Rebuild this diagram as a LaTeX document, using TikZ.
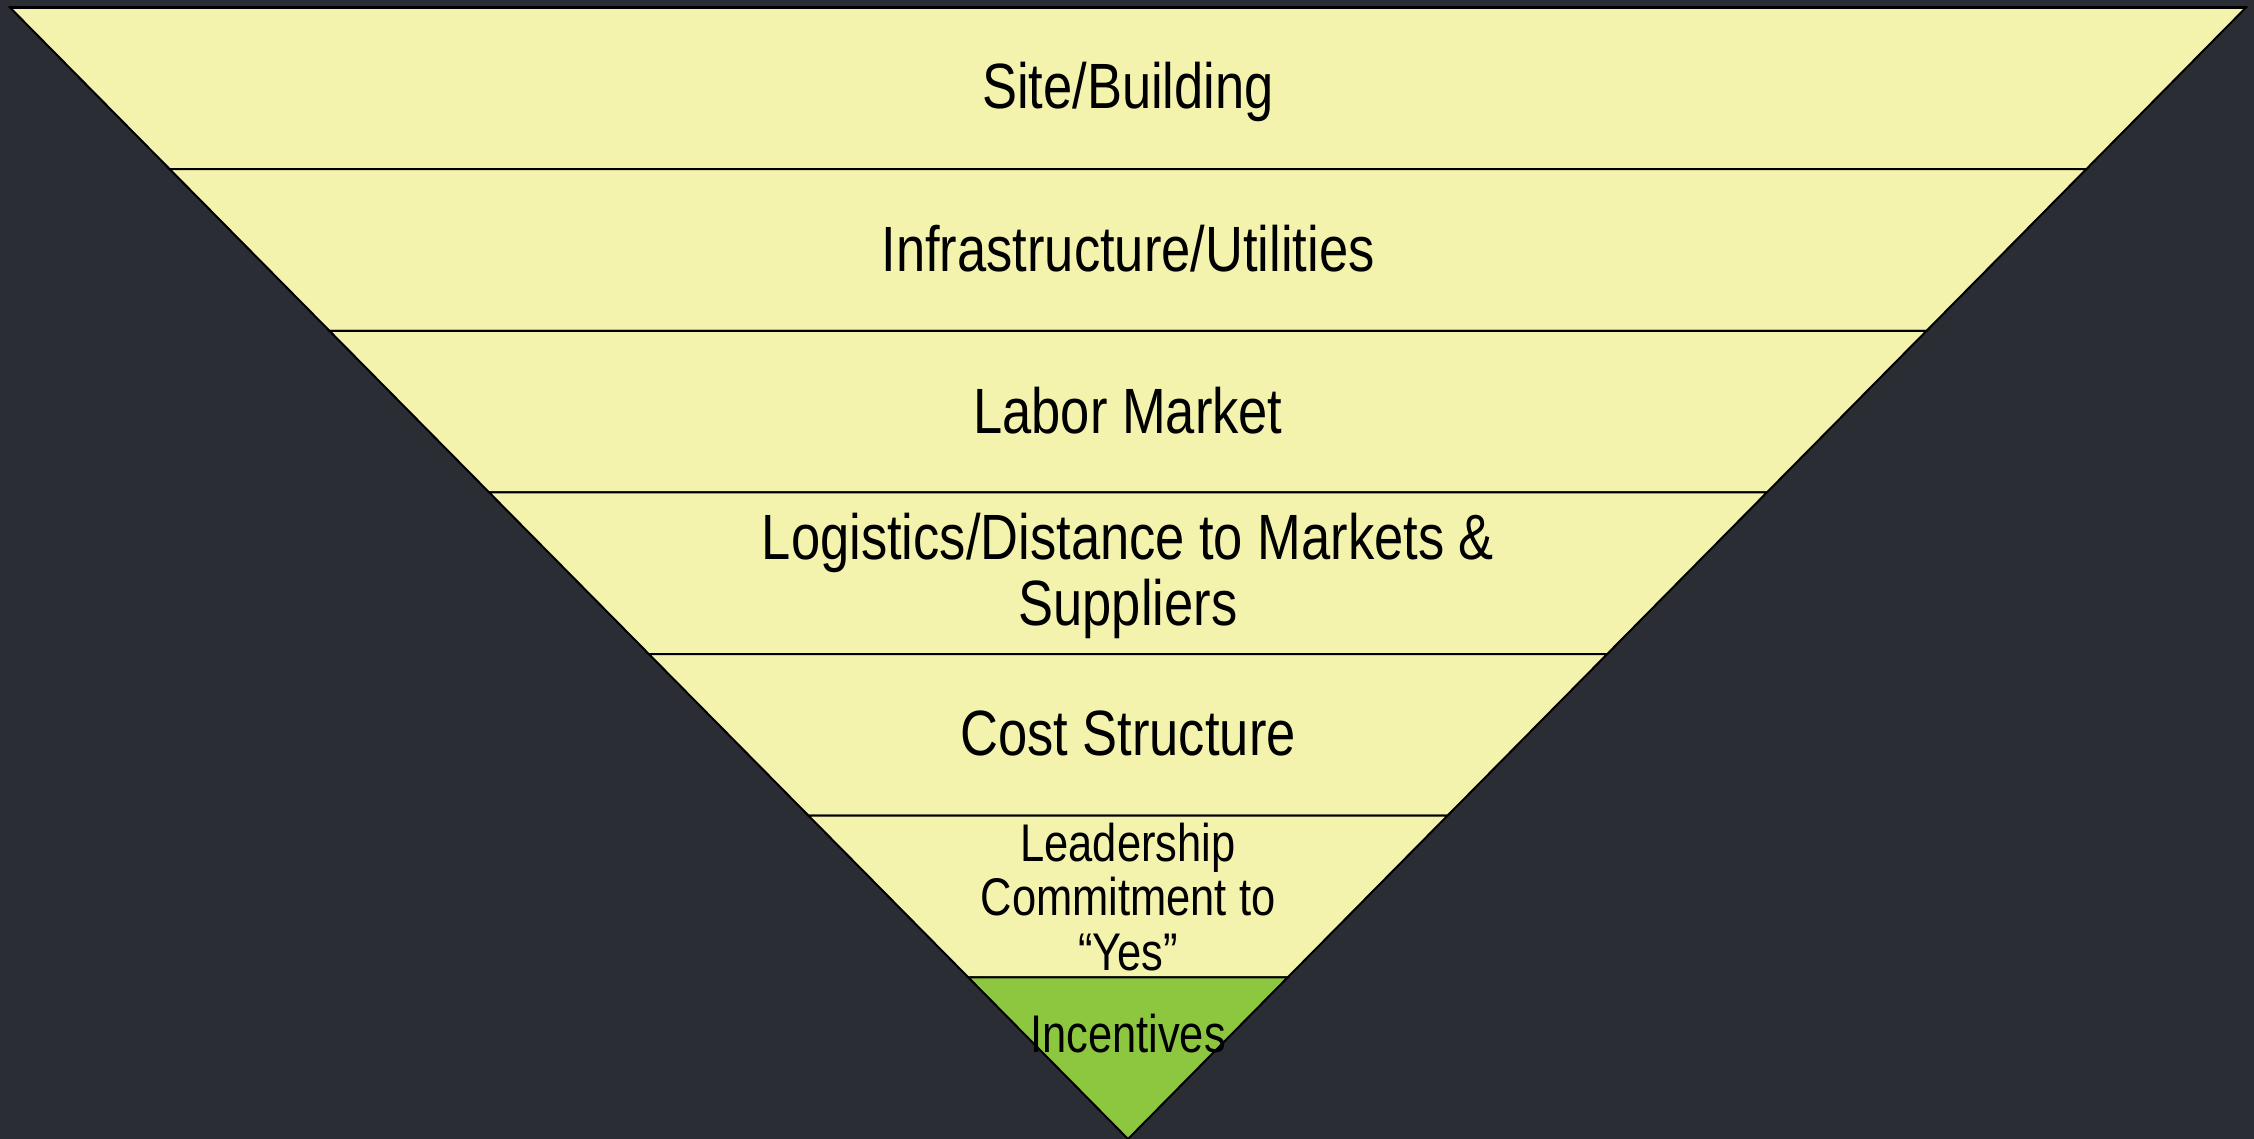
\documentclass[tikz,border=0pt]{standalone}
\usepackage{fontspec}
\usetikzlibrary{calc}
\newfontfamily\bandfont[FakeStretch=0.82]{Liberation Sans}
\definecolor{bgdark}{HTML}{2A2D34}
\definecolor{bandyellow}{HTML}{F3F3AE}
\definecolor{bandgreen}{HTML}{8DC63F}
\begin{document}
\begin{tikzpicture}[x=0.5pt, y=-0.5pt,
    band/.style = {draw=black, line width=1pt, fill=bandyellow},
    bandtext/.style = {font=\bandfont\fontsize{32}{33}\selectfont, align=center, inner sep=0pt},
    smalltext/.style = {font=\bandfont\fontsize{26.5}{27.3}\selectfont, align=center, inner sep=0pt}]
    \fill[bgdark] (0,0) rectangle (2254,1139);
    \useasboundingbox (0,0) rectangle (2254,1139);
    % funnel corners
    \coordinate (tl) at (10,7.5);
    \coordinate (tr) at (2246,7.5);
    \coordinate (tip) at (1128,1139);
    % six yellow bands, green tip
    \foreach \i [evaluate=\i as \j using int(\i+1)] in {0,...,5}
        \filldraw[band] ($(tl)!\i/7!(tip)$) -- ($(tr)!\i/7!(tip)$) -- ($(tr)!\j/7!(tip)$) -- ($(tl)!\j/7!(tip)$) -- cycle;
    \filldraw[band, fill=bandgreen] ($(tl)!6/7!(tip)$) -- ($(tr)!6/7!(tip)$) -- (tip) -- cycle;
    \draw[line width=1.5pt] (tl) -- (tr);
    % band labels
    \node[bandtext] (site) at (1128,92) {Site/Building};
    \node[bandtext] (infra) at (1128,249) {Infrastructure/Utilities};
    \node[bandtext] (labor) at (1128,411) {Labor Market};
    \node[bandtext] (logistics) at (1128,576) {Logistics/Distance to Markets \&\\Suppliers};
    \node[bandtext] (cost) at (1128,733) {Cost Structure};
    \node[smalltext] (leader) at (1128,897) {Leadership\\Commitment to\\“Yes”};
    \node[smalltext] (incent) at (1128,1034) {Incentives};
\end{tikzpicture}
\end{document}
